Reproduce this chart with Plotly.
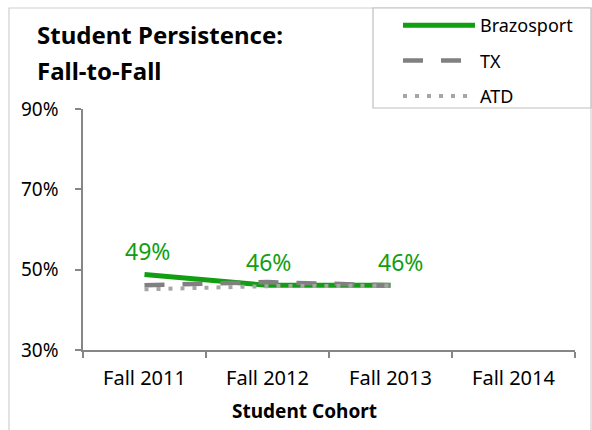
import plotly.graph_objects as go

categories = ["Fall 2011", "Fall 2012", "Fall 2013", "Fall 2014"]
data_categories = ["Fall 2011", "Fall 2012", "Fall 2013"]
brazosport = [48.8, 46.1, 46.1]
brazosport_labels = ["49%", "46%", "46%"]
tx = [46.1, 46.9, 46.1]
atd = [45.1, 45.9, 46.0]
y_ticks = [30, 50, 70, 90]
y_tick_labels = ["30%", "50%", "70%", "90%"]
label_xshift = [3, 1, 10]

W, H = 592, 430
L, R, T, B = 83, 17, 109, 80
pw, ph = W - L - R, H - T - B

def px(x):
    return (x - L) / pw

def py(y):
    return (H - B - y) / ph

FONT = "Noto Sans"
GREEN = "#119e11"
fig = go.Figure()

# dummy trace to create all category slots
fig.add_trace(go.Scatter(x=categories, y=[None] * 4, mode="lines", showlegend=False, hoverinfo="skip"))

fig.add_trace(go.Scatter(
    x=data_categories, y=brazosport, name="Brazosport", mode="lines",
    line=dict(color=GREEN, width=5),
    legendgroup="a",
))
fig.add_trace(go.Scatter(
    x=data_categories, y=tx, name="TX", mode="lines",
    line=dict(color="#808080", width=4.5, dash="20px,18px"),
    legendgroup="b",
))
fig.add_trace(go.Scatter(
    x=data_categories, y=atd, name="ATD", mode="lines",
    line=dict(color="#a6a6a6", width=4, dash="4px,8px"),
    legendgroup="c",
))

shapes = [
    # outer chart border
    dict(type="rect", xref="paper", yref="paper", x0=px(9), x1=px(591), y0=py(440), y1=py(8),
         line=dict(color="#d0d0d0", width=1.2), layer="below"),
    # legend box
    dict(type="rect", xref="paper", yref="paper", x0=px(373), x1=px(591), y0=py(108), y1=py(8),
         line=dict(color="#bfbfbf", width=1.2), fillcolor="white", layer="below"),
]

annotations = [
    dict(text="<b>Student Persistence:</b>", xref="paper", yref="paper", x=px(35), y=py(34),
         xanchor="left", yanchor="middle", showarrow=False, font=dict(family=FONT, size=24, color="black")),
    dict(text="<b>Fall-to-Fall</b>", xref="paper", yref="paper", x=px(35), y=py(71),
         xanchor="left", yanchor="middle", showarrow=False, font=dict(family=FONT, size=24, color="black")),
    dict(text="<b>Student Cohort</b>", xref="paper", yref="paper", x=px(304), y=py(411),
         xanchor="center", yanchor="middle", showarrow=False, font=dict(family=FONT, size=19, color="black")),
]
for cat, val, lab, xs in zip(data_categories, brazosport, brazosport_labels, label_xshift):
    annotations.append(dict(
        text=lab, x=cat, y=val, xref="x", yref="y", showarrow=False,
        xanchor="center", yanchor="bottom", yshift=5, xshift=xs,
        font=dict(family=FONT, size=23, color=GREEN),
    ))

fig.update_layout(
    width=W, height=H,
    margin=dict(l=L, r=R, t=T, b=B, pad=0, autoexpand=False),
    paper_bgcolor="white", plot_bgcolor="white",
    font=dict(family=FONT, size=19, color="black"),
    showlegend=True,
    legend=dict(x=px(398), y=py(7), xanchor="left", yanchor="top",
                bgcolor="rgba(0,0,0,0)", borderwidth=0,
                font=dict(family=FONT, size=18, color="black"),
                traceorder="grouped", tracegroupgap=9, itemwidth=72),
    shapes=shapes,
    annotations=annotations,
    xaxis=dict(
        type="category", categoryorder="array", categoryarray=categories,
        range=[-0.5, 3.5], showgrid=False, zeroline=False,
        showline=True, linecolor="#868686", linewidth=1.5,
        ticks="outside", ticklen=6, tickcolor="#868686", tickwidth=1.5,
        tickson="boundaries", ticklabelstandoff=9, automargin=False,
        tickfont=dict(family=FONT, size=20, color="black"),
    ),
    yaxis=dict(
        range=[30, 90], tickvals=y_ticks, ticktext=y_tick_labels,
        showgrid=False, zeroline=False,
        showline=True, linecolor="#868686", linewidth=1.5,
        ticks="outside", ticklen=6, tickcolor="#868686", tickwidth=1.5,
        ticklabelstandoff=13, automargin=False,
        tickfont=dict(family=FONT, size=19, color="black"),
    ),
)

fig.write_html("out.html", config={"displayModeBar": False},
               post_script="document.body.style.margin='0';")
